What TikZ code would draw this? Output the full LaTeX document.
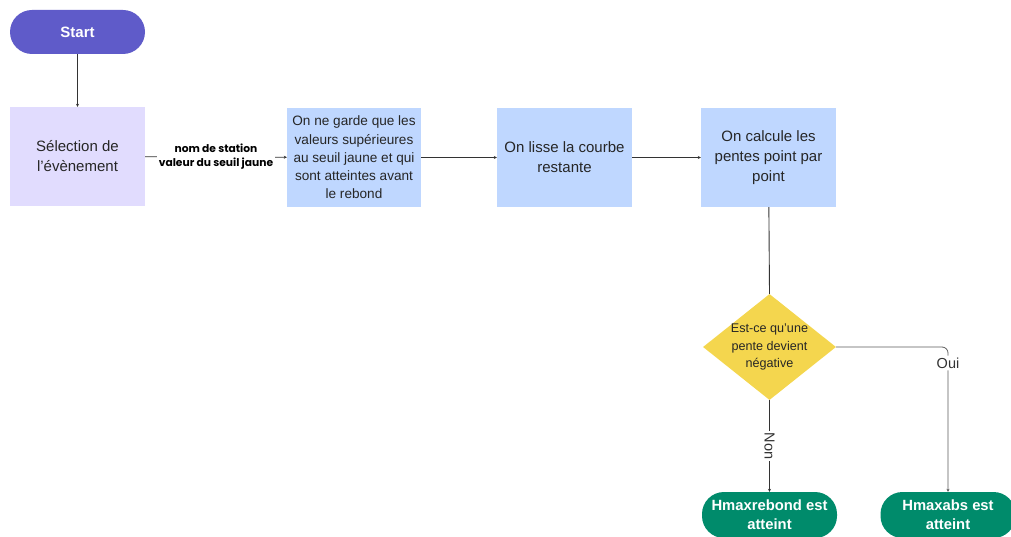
\documentclass[tikz,border=0pt]{standalone}
\usepackage{fontspec}
\setmainfont{Liberation Sans}
\newfontfamily\popfont{Poppins}
\usetikzlibrary{shapes.geometric,arrows.meta}
\definecolor{startc}{HTML}{5F5BC9}
\definecolor{selc}{HTML}{E1DCFE}
\definecolor{boxc}{HTML}{BFD7FF}
\definecolor{yelc}{HTML}{F4D64E}
\definecolor{grnc}{HTML}{008B6B}
\definecolor{linec}{HTML}{333333}
\tikzset{
  startnode/.style={fill=startc, rounded corners=22pt, minimum width=135pt, minimum height=44pt, inner sep=0pt, text=white, font=\bfseries\fontsize{15}{18}\selectfont},
  endnode/.style={fill=grnc, rounded corners=22pt, minimum width=135pt, minimum height=46pt, inner sep=0pt, text=white, align=center, font=\bfseries\fontsize{14.8}{19}\selectfont},
  selbox/.style={fill=selc, minimum width=135pt, minimum height=99pt, inner sep=0pt, align=center, text=black!85, font=\fontsize{15}{20}\selectfont},
  bluebox/.style={fill=boxc, minimum width=135pt, minimum height=99pt, inner sep=0pt, align=center, text=black!85, font=\fontsize{15}{20}\selectfont},
  smallbox/.style={fill=boxc, minimum width=134pt, minimum height=99pt, inner sep=0pt, align=center, text=black!85, font=\fontsize{13.6}{18.3}\selectfont},
  decision/.style={diamond, fill=yelc, minimum width=133pt, minimum height=106pt, inner sep=0pt},
  dtext/.style={align=center, text=black!85, font=\fontsize{12.6}{17.5}\selectfont},
  conn/.style={draw=linec, line width=0.8pt, -{Stealth[length=3pt,width=3pt]}},
  plainconn/.style={draw=linec, line width=0.9pt},
  elabel/.style={fill=white, inner sep=2pt, align=center, font=\popfont\bfseries\fontsize{10.7}{14}\selectfont},
  blabel/.style={fill=white, inner sep=2pt, text=black!80, font=\fontsize{14.5}{16}\selectfont}
}
\begin{document}
\begin{tikzpicture}[x=1pt,y=-1pt]
\useasboundingbox (0,0) rectangle (1011,537);
\clip (0,0) rectangle (1011,537);
\node[startnode] (start) at (77.5,32) {Start};
\node[selbox] (sel) at (77.5,156.5) {Sélection de\\l'évènement};
\node[smallbox] (garde) at (354,157.5) {On ne garde que les\\valeurs supérieures\\au seuil jaune et qui\\sont atteintes avant\\le rebond};
\node[bluebox] (lisse) at (564.5,157.5) {On lisse la courbe\\restante};
\node[bluebox] (pentes) at (768.5,157.5) {On calcule les\\pentes point par\\point};
\node[decision, label={[dtext]center:{Est-ce qu'une\\pente devient\\négative}}] (neg) at (769.5,347) {};
\node[endnode] (rebond) at (769.5,515) {Hmaxrebond est\\atteint};
\node[endnode] (abs) at (948,515) {Hmaxabs est\\atteint};

\draw[conn] (start) -- (sel);
\draw[conn] (sel) -- node[elabel] {nom de station\\valeur du seuil jaune} (garde);
\draw[conn] (garde) -- (lisse);
\draw[conn] (lisse) -- (pentes);
\draw[plainconn] (pentes) -- (neg.north);
\draw[conn] (neg.south) -- node[blabel, rotate=-90] {Non} (rebond.north);
\draw[conn, draw=linec!80, rounded corners=6pt] (neg.east) -| node[blabel, pos=0.555] {Oui} (abs.north);
\end{tikzpicture}
\end{document}
